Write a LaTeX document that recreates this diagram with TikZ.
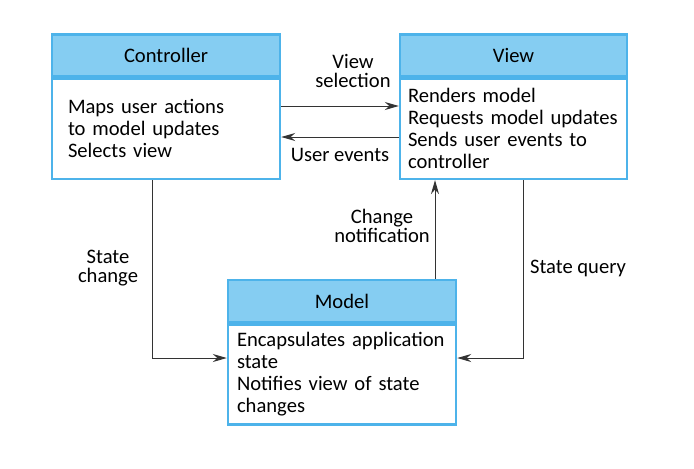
\documentclass[tikz,border=0pt]{standalone}
\usepackage{fontspec}
\setmainfont{Carlito}
\usepackage{tikz}
\usetikzlibrary{arrows.meta}
\definecolor{boxBorder}{HTML}{4DB3EA}
\definecolor{boxHead}{HTML}{85CDF2}
\definecolor{arrowGrey}{HTML}{333333}

\begin{document}
\begin{tikzpicture}[x=0.5pt, y=-0.5pt,
  headStyle/.style={draw=boxBorder, fill=boxHead, line width=1.2pt, minimum height=21pt, inner sep=0pt, font=\fontsize{10.3}{11}\selectfont},
  bodyStyle/.style={draw=boxBorder, fill=white, line width=1.2pt, anchor=north, align=left, minimum height=50pt, inner ysep=0pt, font=\fontsize{10.3}{11}\selectfont},
  labelStyle/.style={align=center, font=\fontsize{10.3}{9.2}\selectfont},
  arrowStyle/.style={draw=arrowGrey, line width=0.5pt, -{Stealth[length=7pt, width=4pt]}}
]
\useasboundingbox (0, 0) rectangle (694, 468);

\node [headStyle, minimum width=114pt] (ctrlHead) at (166, 55.5) {Controller};
\node [bodyStyle, inner xsep=8pt, text width=98pt] (ctrlBody) at (ctrlHead.south) {Maps user actions\\to model updates\\Selects view};

\node [headStyle, minimum width=113.5pt] (viewHead) at (513.5, 55.5) {View};
\node [bodyStyle, inner xsep=4pt, text width=105.5pt] (viewBody) at (viewHead.south) {Renders model\\Requests model updates\\Sends user events to\\controller};

\node [headStyle, minimum width=114pt] (modelHead) at (342, 301) {Model};
\node [bodyStyle, inner xsep=4.5pt, text width=105pt] (modelBody) at (modelHead.south) {Encapsulates application\\state\\Notifies view of state\\changes};

\coordinate (selLine) at (0, 106);
\coordinate (evtLine) at (0, 137);
\coordinate (scBend) at (152, 358);
\coordinate (sqBend) at (523, 358);
\coordinate (cnLine) at (435, 0);

\draw [arrowStyle] (ctrlBody.east |- selLine) -- (viewBody.west |- selLine);
\draw [arrowStyle] (viewBody.west |- evtLine) -- (ctrlBody.east |- evtLine);
\draw [arrowStyle] (ctrlBody.south -| scBend) |- (modelBody.west |- scBend);
\draw [arrowStyle] (viewBody.south -| sqBend) |- (modelBody.east |- sqBend);
\draw [arrowStyle] (modelHead.north -| cnLine) -- (viewBody.south -| cnLine);

\node [labelStyle] (selLabel) at (353, 71) {View\\selection};
\node [labelStyle] (evtLabel) at (340, 155) {User events};
\node [labelStyle] (cnLabel) at (382, 226) {Change\\notification};
\node [labelStyle] (scLabel) at (108, 268) {State\\change};
\node [labelStyle] (sqLabel) at (578, 268) {State query};
\end{tikzpicture}
\end{document}
